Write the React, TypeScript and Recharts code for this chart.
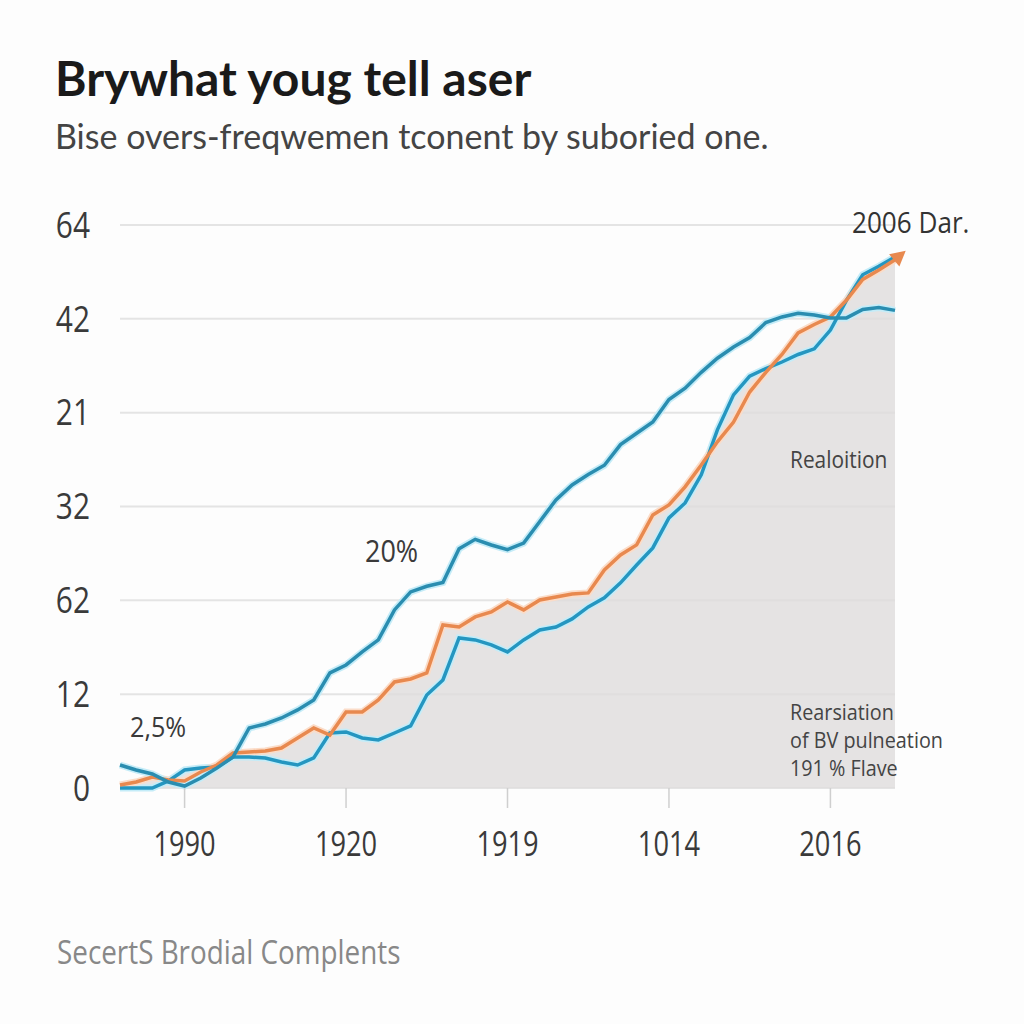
import React from 'react';
import { ComposedChart, Line, Area, XAxis, YAxis, CartesianGrid } from 'recharts';

// step index along the x axis (one reading every ~16px)
const steps = [
  0, 1, 2, 3, 4, 5, 6, 7, 8, 9, 10, 11, 12, 13, 14, 15, 16, 17, 18, 19, 20, 21, 22, 23, 24,
  25, 26, 27, 28, 29, 30, 31, 32, 33, 34, 35, 36, 37, 38, 39, 40, 41, 42, 43, 44, 45, 46, 47, 48,
];

const upperSeries = [
  2.45, 1.92, 1.49, 0.64, 0.21, 1.07, 2.13, 3.3, 6.4, 6.82, 7.46, 8.32, 9.38, 12.26, 13.11, 14.5,
  15.78, 18.98, 20.9, 21.5, 21.9, 25.5, 26.5, 25.9, 25.4, 26.1, 28.4, 30.7, 32.3, 33.4, 34.4, 36.6,
  37.8, 39.0, 41.4, 42.6, 44.3, 45.8, 47.0, 48.0, 49.6, 50.2, 50.6, 50.4, 50.1, 50.1, 51.0, 51.2, 50.9,
];

const orangeSeries = [
  0.32, 0.64, 1.17, 0.85, 0.75, 1.71, 2.45, 3.73, 3.84, 3.94, 4.26, 5.33, 6.4, 5.65, 8.1, 8.1,
  9.38, 11.3, 11.62, 12.26, 17.38, 17.16, 18.23, 18.76, 19.83, 18.98, 20.04, 20.36, 20.68, 20.79, 23.24, 24.84,
  25.91, 29.1, 30.17, 32.09, 34.43, 36.89, 39.0, 42.2, 44.3, 46.2, 48.5, 49.4, 50.2, 52.0, 54.2, 55.2, 56.3,
];

const lowerSeries = [
  0, 0, 0, 0.75, 1.92, 2.13, 2.24, 3.3, 3.3, 3.2, 2.77, 2.45, 3.2, 5.86, 5.97, 5.33,
  5.12, 5.86, 6.61, 9.91, 11.51, 15.99, 15.78, 15.25, 14.5, 15.78, 16.84, 17.16, 18.02, 19.3, 20.26, 21.86,
  23.77, 25.59, 28.78, 30.38, 33.37, 38.17, 41.9, 43.9, 44.7, 45.4, 46.2, 46.8, 48.8, 52.0, 54.7, 55.6, 56.6,
];

const xTicks = [4, 14, 24, 34, 44];
const xTickLabels = ['1990', '1920', '1919', '1014', '2016'];
const yTicks = [0, 10, 20, 30, 40, 50, 60];
const yTickLabels = ['0', '12', '62', '32', '21', '42', '64'];

const data = steps.map((t, i) => ({
  t,
  upper: upperSeries[i],
  orange: orangeSeries[i],
  lower: lowerSeries[i],
  shade: Math.max(orangeSeries[i], lowerSeries[i]),
}));

const FONT = "'Open Sans', sans-serif";
const ORANGE = '#e8894f';
const TEAL = '#2a8db0';
const BLUE = '#2596c0';

// condensed-looking text: no narrow face is installed, so squeeze horizontally
const Narrow = ({ x, y, sx = 0.85, size, fill = '#3a3a3a', anchor = 'start', dy, children }: any) => (
  <text
    transform={`translate(${x} ${y}) scale(${sx} 1)`}
    fontFamily={FONT}
    fontSize={size}
    fill={fill}
    textAnchor={anchor}
    dy={dy}
  >
    {children}
  </text>
);

const XTick = (props: any) => {
  const { x, y, payload } = props;
  return (
    <Narrow x={x} y={y} sx={0.8} size={34} anchor="middle" dy="0.71em">
      {xTickLabels[xTicks.indexOf(payload.value)] ?? ''}
    </Narrow>
  );
};

const YTick = (props: any) => {
  const { x, y, payload } = props;
  return (
    <Narrow x={x} y={y} sx={0.83} size={36} anchor="end" dy="0.355em">
      {yTickLabels[yTicks.indexOf(payload.value)] ?? ''}
    </Narrow>
  );
};

const ArrowDot = (props: any) => {
  const { cx, cy, index } = props;
  if (index !== orangeSeries.length - 1) return <g key={`o-${index}`} />;
  return (
    <polygon
      key="arrow"
      points="-1,-8 14,0 -1,8"
      transform={`translate(${cx},${cy}) rotate(-40)`}
      fill={ORANGE}
    />
  );
};

export default function App() {
  return (
    <div style={{ position: 'absolute', left: 0, top: 0, width: 1024, height: 1024, background: '#fdfdfd', overflow: 'hidden' }}>
      <ComposedChart
        width={1024}
        height={1024}
        data={data}
        margin={{ top: 225, right: 129, bottom: 176, left: 60 }}
      >
        <CartesianGrid vertical={false} stroke="#e4e4e4" strokeWidth={2} />
        <XAxis
          dataKey="t"
          type="number"
          domain={[0, 48]}
          ticks={xTicks}
          axisLine={false}
          tickLine={{ stroke: '#cfcfcf', strokeWidth: 1.5 }}
          tickSize={20}
          tickMargin={24}
          height={60}
          tick={<XTick />}
        />
        <YAxis
          type="number"
          domain={[0, 60]}
          ticks={yTicks}
          axisLine={false}
          tickLine={false}
          tickSize={10}
          tickMargin={20}
          width={60}
          tick={<YTick />}
        />
        <Area
          type="linear"
          dataKey="shade"
          stroke="none"
          fill="#dedcdc"
          fillOpacity={0.8}
          isAnimationActive={false}
        />
        <Line type="linear" dataKey="lower" stroke="#c4ecf8" strokeWidth={7} dot={false} isAnimationActive={false} />
        <Line type="linear" dataKey="orange" stroke="#fbdcc8" strokeWidth={7} dot={false} isAnimationActive={false} />
        <Line type="linear" dataKey="upper" stroke="#c4ecf8" strokeWidth={7} dot={false} isAnimationActive={false} />
        <Line type="linear" dataKey="lower" stroke={BLUE} strokeWidth={3.5} dot={false} isAnimationActive={false} />
        <Line type="linear" dataKey="orange" stroke={ORANGE} strokeWidth={3.5} dot={ArrowDot} isAnimationActive={false} />
        <Line type="linear" dataKey="upper" stroke={TEAL} strokeWidth={3.5} dot={false} isAnimationActive={false} />
      </ComposedChart>
      <svg width={1024} height={1024} style={{ position: 'absolute', left: 0, top: 0, pointerEvents: 'none' }}>
        <text x={55} y={96} fontFamily="Lato, sans-serif" fontWeight={700} fontSize={48} fill="#1a1a1a">
          Brywhat youg tell aser
        </text>
        <text x={55} y={149} fontFamily="Lato, sans-serif" fontSize={34} fill="#444">
          Bise overs-freqwemen tconent by suboried one.
        </text>
        <Narrow x={852} y={233} sx={0.87} size={30} fill="#333">2006 Dar.</Narrow>
        <Narrow x={365} y={562} sx={0.87} size={31}>20%</Narrow>
        <Narrow x={130} y={737} sx={0.9} size={28}>2,5%</Narrow>
        <Narrow x={790} y={468} sx={0.87} size={24} fill="#444">Realoition</Narrow>
        <Narrow x={790} y={720} sx={0.9} size={22} fill="#444">Rearsiation</Narrow>
        <Narrow x={790} y={748} sx={0.9} size={22} fill="#444">of BV pulneation</Narrow>
        <Narrow x={790} y={776} sx={0.9} size={22} fill="#444">191 % Flave</Narrow>
        <Narrow x={57} y={964} sx={0.87} size={32} fill="#888">SecertS Brodial Complents</Narrow>
      </svg>
    </div>
  );
}
